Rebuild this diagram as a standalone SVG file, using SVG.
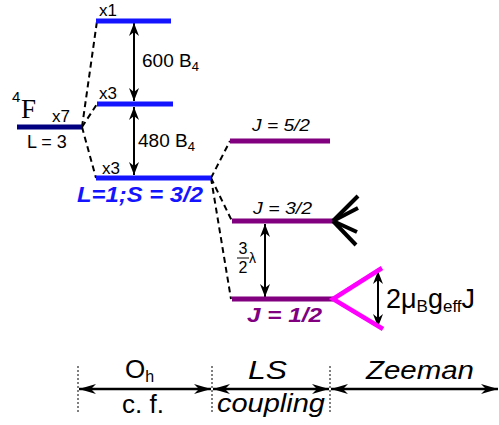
<svg xmlns="http://www.w3.org/2000/svg" width="499" height="425" viewBox="0 0 499 425">
<style>
text{font-family:"Liberation Sans",Arial,sans-serif;fill:#000}
.lvl{stroke-width:5;fill:none}
.blue{stroke:#1414ff}
.navy{stroke:#000080}
.pur{stroke:#800080}
.dash{stroke:#000;stroke-width:2;stroke-dasharray:6,4;fill:none}
.arr{stroke:#000;stroke-width:2;fill:none;marker-start:url(#ah);marker-end:url(#ah)}
.barr{stroke:#000;stroke-width:2.5;fill:none;marker-start:url(#bh);marker-end:url(#bh)}
.vd{stroke:#000;stroke-width:1;stroke-dasharray:2,2}
</style>
<defs>
<marker id="ah" markerUnits="userSpaceOnUse" markerWidth="16" markerHeight="14" viewBox="-14 -6 16 12" refX="0" refY="0" orient="auto-start-reverse">
<path d="M0,0 L-13,-5 L-9,0 L-13,5 Z" fill="#000"/>
</marker>
<marker id="bh" markerUnits="userSpaceOnUse" markerWidth="20" markerHeight="14" viewBox="-18 -7 20 14" refX="0" refY="0" orient="auto-start-reverse">
<path d="M0,0 L-17,-5 L-12,0 L-17,5 Z" fill="#000"/>
</marker>
</defs>

<g id="connectors">
<path class="dash" d="M82,127 L97,21"/>
<path class="dash" d="M82,127 L97,104"/>
<path class="dash" d="M82,127 L96,178"/>
<path class="dash" d="M211,178 L230,141"/>
<path class="dash" d="M211,178 L232,221"/>
<path class="dash" d="M211,178 L231,299"/>
<line class="arr" x1="134" y1="23" x2="134" y2="101"/>
<line class="arr" x1="134" y1="107" x2="134" y2="175"/>
<line class="arr" x1="265" y1="224" x2="265" y2="297"/>
<line class="arr" x1="378" y1="271" x2="378" y2="327"/>
</g>

<g id="level-4F">
<line class="lvl navy" x1="17" y1="127" x2="82" y2="127"/>
<text x="12" y="102" font-size="15">4</text>
<text x="21" y="118" font-size="27" style="font-family:'Liberation Serif',serif">F</text>
<text x="52" y="122" font-size="17">x7</text>
<text x="27" y="148" font-size="18">L = 3</text>
</g>

<g id="level-x1">
<line class="lvl blue" x1="96" y1="21" x2="171" y2="21"/>
<text x="99" y="16" font-size="17">x1</text>
</g>

<g id="level-x3-upper">
<line class="lvl blue" x1="97" y1="104" x2="173" y2="104"/>
<text x="99" y="99" font-size="17">x3</text>
</g>

<g id="level-x3-lower">
<line class="lvl blue" x1="96" y1="178" x2="211" y2="178"/>
<text x="102" y="174" font-size="17">x3</text>
<text x="77" y="202" font-size="22" font-weight="bold" font-style="italic" textLength="126" lengthAdjust="spacingAndGlyphs" style="fill:#1414ff">L=1;S = 3/2</text>
</g>

<g id="label-600">
<text x="142" y="67" font-size="19">600 B<tspan font-size="13" dy="4">4</tspan></text>
</g>
<g id="label-480">
<text x="138" y="147" font-size="19">480 B<tspan font-size="13" dy="4">4</tspan></text>
</g>

<g id="level-J52">
<line class="lvl pur" x1="230" y1="141" x2="330" y2="141"/>
<text x="252" y="131" font-size="16" font-style="italic" textLength="58" lengthAdjust="spacingAndGlyphs">J = 5/2</text>
</g>

<g id="level-J32">
<line class="lvl pur" x1="232" y1="221" x2="333" y2="221"/>
<text x="253" y="214" font-size="16" font-style="italic" textLength="59" lengthAdjust="spacingAndGlyphs">J = 3/2</text>
<g stroke="#000" stroke-width="4" stroke-linecap="butt">
<line x1="333" y1="221" x2="358" y2="196"/>
<line x1="333" y1="221" x2="358" y2="208"/>
<line x1="333" y1="221" x2="357" y2="232"/>
<line x1="333" y1="221" x2="356" y2="245"/>
</g>
</g>

<g id="level-J12">
<line class="lvl pur" x1="232" y1="299" x2="333" y2="299"/>
<text x="247" y="322" font-size="21" font-weight="bold" font-style="italic" textLength="75" lengthAdjust="spacingAndGlyphs" style="fill:#800080">J = 1/2</text>
<polyline points="382,268 333,299 383,329" fill="none" stroke="#ff00ff" stroke-width="4.5"/>
<text x="386" y="308" font-size="27">2μ<tspan font-size="17" dy="4">B</tspan><tspan dy="-4">g</tspan><tspan font-size="17" dy="4">eff</tspan><tspan dy="-4">J</tspan></text>
</g>

<g id="label-lambda">
<text x="243" y="254" font-size="16" text-anchor="middle">3</text>
<line x1="237" y1="258" x2="249" y2="258" stroke="#000" stroke-width="1"/>
<text x="243" y="273" font-size="16" text-anchor="middle">2</text>
<text x="249" y="263" font-size="14">λ</text>
</g>

<g id="bottom-axis">
<line class="vd" x1="78" y1="366" x2="78" y2="412"/>
<line class="vd" x1="212" y1="366" x2="212" y2="412"/>
<line class="vd" x1="330" y1="366" x2="330" y2="412"/>
<line class="barr" x1="79" y1="389" x2="211" y2="389"/>
<line class="barr" x1="213" y1="389" x2="329" y2="389"/>
<line class="barr" x1="331" y1="389" x2="498" y2="389"/>
<text x="125" y="378" font-size="26">O<tspan font-size="16" dy="4">h</tspan></text>
<text x="122" y="413" font-size="26">c. f.</text>
<text x="248" y="379" font-size="26" font-style="italic" textLength="39" lengthAdjust="spacingAndGlyphs">LS</text>
<text x="217" y="412" font-size="26" font-style="italic" textLength="108" lengthAdjust="spacingAndGlyphs">coupling</text>
<text x="366" y="379" font-size="26" font-style="italic" textLength="108" lengthAdjust="spacingAndGlyphs">Zeeman</text>
</g>
</svg>
